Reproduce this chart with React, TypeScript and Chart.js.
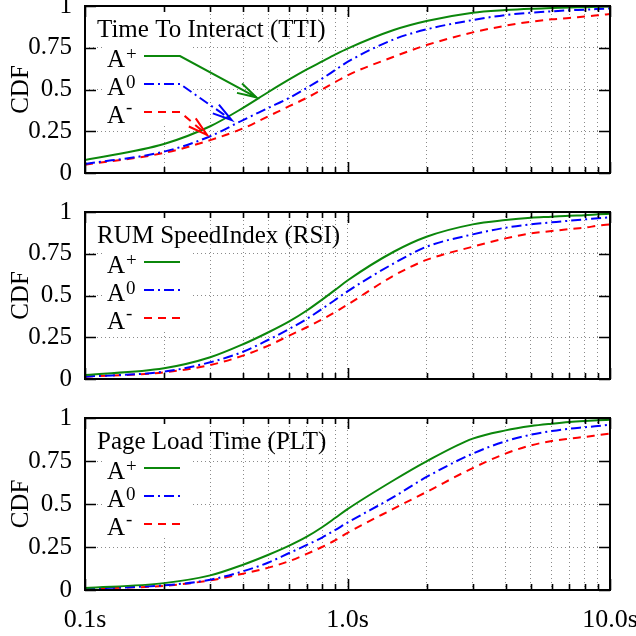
import React, { useEffect, useRef } from 'react';
import { Chart, registerables } from 'chart.js';
Chart.register(...registerables);

const FONT = "'Liberation Serif', 'Times New Roman', serif";

// sample points (seconds)
const xValues = [0.1, 0.2, 0.3, 0.4, 0.5, 0.6, 0.7, 0.8, 0.9, 1, 1.5, 2, 3, 4, 5, 6, 7, 8, 9, 10];

// Time To Interact
const ttiPlus = [0.078, 0.174, 0.28, 0.39, 0.485, 0.56, 0.62, 0.668, 0.71, 0.745, 0.856, 0.91, 0.96, 0.976, 0.984, 0.988, 0.991, 0.993, 0.995, 0.997];
const ttiZero = [0.054, 0.128, 0.22, 0.317, 0.39, 0.45, 0.51, 0.565, 0.618, 0.665, 0.8, 0.86, 0.916, 0.946, 0.96, 0.968, 0.975, 0.978, 0.982, 0.986];
const ttiMinus = [0.05, 0.12, 0.197, 0.267, 0.34, 0.4, 0.45, 0.5, 0.545, 0.585, 0.696, 0.766, 0.842, 0.882, 0.906, 0.92, 0.928, 0.937, 0.944, 0.952];

// RUM SpeedIndex
const rsiPlus = [0.024, 0.064, 0.13, 0.208, 0.28, 0.345, 0.41, 0.475, 0.535, 0.59, 0.762, 0.852, 0.926, 0.952, 0.966, 0.972, 0.978, 0.981, 0.986, 0.99];
const rsiZero = [0.014, 0.044, 0.1, 0.163, 0.235, 0.3, 0.36, 0.42, 0.475, 0.525, 0.692, 0.792, 0.866, 0.906, 0.926, 0.938, 0.948, 0.956, 0.962, 0.968];
const rsiMinus = [0.014, 0.04, 0.084, 0.14, 0.2, 0.26, 0.31, 0.357, 0.402, 0.445, 0.619, 0.713, 0.792, 0.842, 0.872, 0.886, 0.898, 0.906, 0.918, 0.926];

// Page Load Time
const pltPlus = [0.012, 0.04, 0.085, 0.147, 0.205, 0.258, 0.31, 0.365, 0.42, 0.47, 0.638, 0.748, 0.88, 0.928, 0.953, 0.967, 0.977, 0.983, 0.987, 0.99];
const pltZero = [0.008, 0.027, 0.06, 0.109, 0.16, 0.215, 0.262, 0.305, 0.35, 0.392, 0.541, 0.657, 0.793, 0.865, 0.903, 0.924, 0.938, 0.946, 0.953, 0.961];
const pltMinus = [0.008, 0.024, 0.056, 0.095, 0.13, 0.168, 0.21, 0.25, 0.29, 0.332, 0.473, 0.57, 0.709, 0.793, 0.841, 0.866, 0.88, 0.89, 0.9, 0.909];

const panelTitles = ['Time To Interact (TTI)', 'RUM SpeedIndex (RSI)', 'Page Load Time (PLT)'];
const seriesBase = 'A';
const seriesSup = ['+', '0', '-'];
const seriesColors = ['#0b870b', '#0000ff', '#ff0000'];
const seriesDashes: number[][] = [[], [10, 4, 2, 4], [8, 6]];

const yTickValues = [0, 0.25, 0.5, 0.75, 1];
const yTickLabels = ['0', '0.25', '0.5', '0.75', '1'];
const xTickValues = [0.1, 0.2, 0.3, 0.4, 0.5, 0.6, 0.7, 0.8, 0.9, 1, 2, 3, 4, 5, 6, 7, 8, 9, 10];
const xMajorValues = [0.1, 1, 10];
const xMajorLabels = ['0.1s', '1.0s', '10.0s'];

// arrow tips (data coords) in the TTI panel, one per series
const ttiArrowTips = [
  [0.45, 0.453],
  [0.362, 0.317],
  [0.2915, 0.228],
];

const panelSeries = [
  [ttiPlus, ttiZero, ttiMinus],
  [rsiPlus, rsiZero, rsiMinus],
  [pltPlus, pltZero, pltMinus],
];

const panelLayout = [
  { top: 0, height: 200, padTop: 6, padBottom: 27, showX: false },
  { top: 200, height: 200, padTop: 12, padBottom: 21, showX: false },
  { top: 400, height: 236, padTop: 18, padBottom: 0, showX: true },
];

function Panel({ index }: { index: number }) {
  const ref = useRef<HTMLCanvasElement | null>(null);
  const lay = panelLayout[index];
  useEffect(() => {
    if (!ref.current) return;
    const series = panelSeries[index];
    const arrows = index === 0 ? ttiArrowTips : null;
    const decor = {
      id: 'decor' + index,
      beforeDatasetsDraw(chart: any) {
        const { ctx, chartArea: a } = chart;
        ctx.save();
        ctx.fillStyle = '#ffffff';
        ctx.fillRect(a.left + 19, a.top + 1, 88, 118);
        ctx.restore();
      },
      afterDraw(chart: any) {
        const { ctx, chartArea: a } = chart;
        const xs = chart.scales.x;
        const ys = chart.scales.y;
        ctx.save();
        // ticks (inward, mirrored)
        ctx.strokeStyle = '#000';
        ctx.lineWidth = 1.6;
        ctx.setLineDash([]);
        ctx.beginPath();
        for (const v of xTickValues) {
          const px = Math.round(xs.getPixelForValue(v)) + 0.5;
          const len = xMajorValues.includes(v) ? 11 : 6;
          ctx.moveTo(px, a.bottom);
          ctx.lineTo(px, a.bottom - len);
          ctx.moveTo(px, a.top);
          ctx.lineTo(px, a.top + len);
        }
        for (const v of yTickValues) {
          const py = Math.round(ys.getPixelForValue(v)) + 0.5;
          ctx.moveTo(a.left, py);
          ctx.lineTo(a.left + 11, py);
          ctx.moveTo(a.right, py);
          ctx.lineTo(a.right - 11, py);
        }
        ctx.stroke();
        // border
        ctx.lineWidth = 2;
        ctx.strokeRect(a.left, a.top, a.right - a.left, a.bottom - a.top);

        // key title
        ctx.fillStyle = '#000';
        ctx.textAlign = 'left';
        ctx.textBaseline = 'alphabetic';
        ctx.font = `25px ${FONT}`;
        ctx.fillText(panelTitles[index], a.left + 12, a.top + 31);

        for (let i = 0; i < 3; i++) {
          const y = a.top + 50 + 28 * i;
          ctx.fillStyle = '#000';
          ctx.font = `25px ${FONT}`;
          ctx.fillText(seriesBase, a.left + 22, y + 11);
          const w = ctx.measureText(seriesBase).width;
          ctx.font = `19px ${FONT}`;
          ctx.fillText(seriesSup[i], a.left + 22 + w + 1, y + (i === 2 ? 1 : 4));

          ctx.strokeStyle = seriesColors[i];
          ctx.lineWidth = 2;
          ctx.setLineDash(seriesDashes[i]);
          ctx.beginPath();
          const sx = a.left + 59;
          const ex = a.left + 95;
          ctx.moveTo(sx, y);
          ctx.lineTo(ex, y);
          if (arrows) {
            const tx = xs.getPixelForValue(arrows[i][0]);
            const ty = ys.getPixelForValue(arrows[i][1]);
            ctx.lineTo(tx, ty);
            ctx.stroke();
            const ang = Math.atan2(ty - y, tx - ex);
            const L = 20;
            const spread = 0.27;
            ctx.setLineDash([]);
            ctx.beginPath();
            ctx.moveTo(tx - L * Math.cos(ang - spread), ty - L * Math.sin(ang - spread));
            ctx.lineTo(tx, ty);
            ctx.lineTo(tx - L * Math.cos(ang + spread), ty - L * Math.sin(ang + spread));
            ctx.stroke();
          } else {
            ctx.stroke();
          }
        }
        ctx.restore();
      },
    };

    const chart = new Chart(ref.current, {
      type: 'line',
      data: {
        datasets: series.map((s, i) => ({
          label: seriesBase + seriesSup[i],
          data: xValues.map((x, j) => ({ x, y: s[j] })),
          borderColor: seriesColors[i],
          borderWidth: 2,
          borderDash: seriesDashes[i],
          pointRadius: 0,
          cubicInterpolationMode: 'monotone',
          fill: false,
        })),
      },
      options: {
        animation: false,
        responsive: false,
        maintainAspectRatio: false,
        layout: { padding: { left: 0, right: 26, top: lay.padTop, bottom: lay.padBottom } },
        plugins: { legend: { display: false }, tooltip: { enabled: false } },
        scales: {
          x: {
            type: 'logarithmic',
            min: 0.1,
            max: 10,
            afterBuildTicks: (s: any) => {
              s.ticks = xTickValues.map((v) => ({ value: v, major: xMajorValues.includes(v) }));
            },
            afterFit: (s: any) => {
              s.height = lay.showX ? 46 : 0;
              s.paddingLeft = 0;
              s.paddingRight = 0;
            },
            ticks: {
              display: lay.showX,
              autoSkip: false,
              maxRotation: 0,
              minRotation: 0,
              padding: 15,
              color: '#000',
              font: { family: FONT, size: 26 },
              callback: (v: any) => {
                const k = xMajorValues.indexOf(Number(v));
                return k >= 0 ? xMajorLabels[k] : '';
              },
            },
            grid: {
              drawTicks: false,
              lineWidth: 1,
              color: (c: any) => {
                const v = c.tick ? c.tick.value : 0;
                return v === 0.1 || v === 10 ? 'rgba(0,0,0,0)' : '#8a8a8a';
              },
            },
            border: { display: false, dash: [1, 3] },
          },
          y: {
            min: 0,
            max: 1,
            afterBuildTicks: (s: any) => {
              s.ticks = yTickValues.map((v) => ({ value: v }));
            },
            afterFit: (s: any) => {
              s.width = 85;
              s.paddingTop = 0;
              s.paddingBottom = 0;
            },
            ticks: {
              padding: 13,
              color: '#000',
              font: { family: FONT, size: 25 },
              callback: (_v: any, i: number) => yTickLabels[i],
            },
            grid: {
              drawTicks: false,
              lineWidth: 1,
              color: (c: any) => {
                const v = c.tick ? c.tick.value : 0;
                return v === 0 || v === 1 ? 'rgba(0,0,0,0)' : '#8a8a8a';
              },
            },
            border: { display: false, dash: [1, 3] },
            title: {
              display: true,
              text: 'CDF',
              color: '#000',
              font: { family: FONT, size: 25 },
              padding: { top: 6, bottom: 0 },
            },
          },
        },
      },
      plugins: [decor],
    } as any);
    return () => chart.destroy();
  }, [index]);
  return (
    <canvas
      ref={ref}
      width={636}
      height={lay.height}
      style={{ position: 'absolute', left: 0, top: lay.top, width: 636, height: lay.height }}
    />
  );
}

export default function App() {
  return (
    <div style={{ position: 'absolute', left: 0, top: 0, width: 636, height: 636, background: '#fff' }}>
      <Panel index={0} />
      <Panel index={1} />
      <Panel index={2} />
    </div>
  );
}
